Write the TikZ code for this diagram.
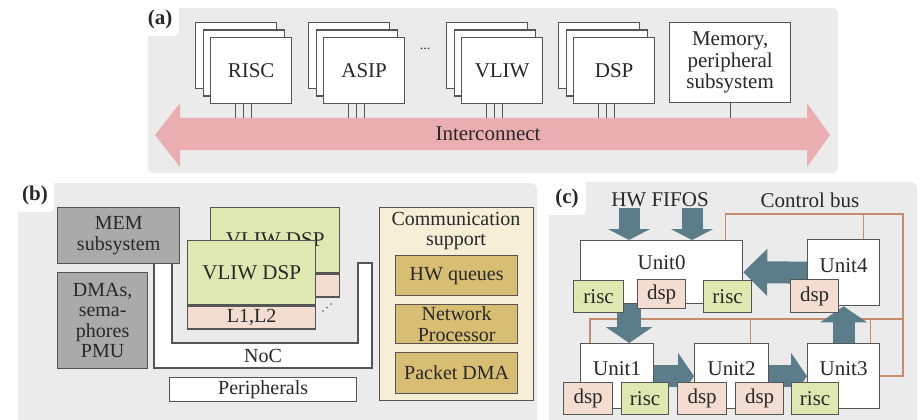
\documentclass[tikz,border=0pt]{standalone}
\usepackage{fontspec}
\setmainfont{Liberation Serif}
\usetikzlibrary{arrows.meta}

\begin{document}
\begin{tikzpicture}[x=1pt, y=-1pt,
    every node/.style={font=\fontsize{21}{21.5}\selectfont, text=ink, align=center, inner sep=0pt},
    box/.style={draw=edgegray, line width=1.3pt, fill=white, anchor=north west},
    card/.style={box, minimum width=81pt, minimum height=66pt},
    tag/.style={fill=white, rounded corners=4pt, minimum width=38pt, minimum height=34pt, font=\bfseries\fontsize{21}{21}\selectfont},
    panel/.style={fill=panelgray, rounded corners=6pt},
    stub/.style={draw=edgegray, line width=1.2pt},
    bus/.style={draw=busbrown, line width=1.4pt},
    flow/.style={draw=flowteal, line width=22pt, -{Triangle[width=46pt, length=16pt]}},
    small/.style={box, minimum width=48pt, minimum height=32pt}]
    % Màu dùng trong hình
    \definecolor{ink}{RGB}{40, 40, 40}
    \definecolor{edgegray}{RGB}{85, 85, 85}
    \definecolor{panelgray}{RGB}{235, 235, 235}
    \definecolor{icpink}{RGB}{234, 174, 176}
    \definecolor{memgray}{RGB}{170, 170, 170}
    \definecolor{dspgreen}{RGB}{223, 232, 176}
    \definecolor{cachepink}{RGB}{243, 221, 208}
    \definecolor{commbeige}{RGB}{246, 238, 214}
    \definecolor{tanfill}{RGB}{215, 190, 115}
    \definecolor{busbrown}{RGB}{196, 140, 108}
    \definecolor{flowteal}{RGB}{90, 125, 137}

    \useasboundingbox (0,0) rectangle (922,420);

    % 1. Khung (a): bộ xử lý và Interconnect
    \fill[panel] (148,8) rectangle (838,173);
    \node[tag] (taga) at (160,19) {(a)};

    \fill[icpink] (155,135) -- (180,103) -- (180,118) -- (807,118) -- (807,103) -- (830,135)
        -- (807,167) -- (807,150) -- (180,150) -- (180,167) -- cycle;
    \node (ic) at (488,134) {Interconnect};
    \coordinate (icTop) at (0,118);

    \foreach \name/\x in {RISC/210, ASIP/323, VLIW/461, DSP/573} {
        \node[card] at (\x-15, 22) {};
        \node[card] at (\x-7.5, 29.5) {};
        \node[card] (\name) at (\x, 37) {\name};
        \foreach \dx in {-16, -8, 0} {
            \path ([xshift=\dx pt]\name.south) coordinate (pin);
            \draw[stub] (pin) -- (pin |- icTop);
        }
    }
    \node[font=\fontsize{14}{14}\selectfont] (gap) at (425,49) {...};

    \node[box, minimum width=121pt, minimum height=80pt] (mem) at (669,22) {Memory,\\peripheral\\subsystem};
    \draw[stub] (mem.south) -- (mem.south |- icTop);

    % 2. Khung (b): cụm VLIW DSP
    \fill[panel] (18,183) rectangle (537,440);
    \node[tag] (tagb) at (35,195) {(b)};

    \begin{scope}[every node/.append style={font=\fontsize{20}{20.5}\selectfont}]
    \draw[stub, fill=white] (154,263) -- (154,368) -- (372,368) -- (372,263) -- (358,263)
        -- (358,343) -- (172,343) -- (172,263) -- cycle;
    \node (noc) at (263,356) {NoC};
    \node[box, minimum width=187pt, minimum height=24pt] (periph) at (169,377) {Peripherals};

    \node[box, fill=memgray, minimum width=122pt, minimum height=56pt] (memsub) at (57,207) {MEM\\subsystem};
    \node[box, fill=memgray, minimum width=90pt, minimum height=96pt] (dma) at (57,272) {DMAs,\\sema-\\phores\\PMU};

    \node[box, fill=dspgreen, minimum width=129pt, minimum height=65pt, font=\fontsize{21}{21}\selectfont] (vliwB) at (210,207) {VLIW DSP};
    \node[box, fill=cachepink, minimum width=129pt, minimum height=23pt] (cacheB) at (vliwB.south west) {};
    \node[box, fill=dspgreen, minimum width=128pt, minimum height=64pt, font=\fontsize{21}{21}\selectfont] (vliwA) at (187,240) {VLIW DSP};
    \node[box, fill=cachepink, minimum width=128pt, minimum height=23pt] (cacheA) at (vliwA.south west) {L1,L2};
    \foreach \k in {0, 1, 2}
        \fill[edgegray] (323+4*\k, 311-3.5*\k) circle (0.9pt);

    \node[box, fill=commbeige, minimum width=154pt, minimum height=193pt] (comm) at (379,207) {};
    \node (commt) at (456,231) {Communication\\support};
    \node[box, fill=tanfill, minimum width=122pt, minimum height=40pt] (hwq) at (395,255) {HW queues};
    \node[box, fill=tanfill, minimum width=122pt, minimum height=39pt] (netp) at (395,304) {Network\\Processor};
    \node[box, fill=tanfill, minimum width=122pt, minimum height=41pt] (pdma) at (395,352) {Packet DMA};
    \end{scope}

    % 3. Khung (c): các Unit và Control bus
    \fill[panel] (549,182) rectangle (917,440);
    \node[tag] (tagc) at (567,198) {(c)};
    \node (fifo) at (660,200) {HW FIFOS};
    \node (cbus) at (810,200) {Control bus};

    \coordinate (cbtr) at (903,214);
    \coordinate (cbmr) at (903,319);

    \node[box, minimum width=162pt, minimum height=63pt] (unit0) at (580,240) {};
    \node[box, minimum width=72pt, minimum height=66pt] (unit4) at (807,239) {};
    \node[box, minimum width=73pt, minimum height=65pt] (unit1) at (580,343) {};
    \node[box, minimum width=74pt, minimum height=65pt] (unit2) at (694,343) {};
    \node[box, minimum width=72pt, minimum height=65pt] (unit3) at (807,343) {};

    \draw[bus] ([xshift=64pt]unit0.north) |- (cbtr) |- (unit3.east);
    \path ([xshift=20pt]unit4.north) coordinate (tap4);
    \draw[bus] (tap4) -- (tap4 |- cbtr);
    \draw[bus] ([xshift=-27pt]unit1.north) |- (cbmr);
    \path ([xshift=19pt]unit2.north) coordinate (tap2);
    \draw[bus] (tap2) -- (tap2 |- cbmr);
    \path ([xshift=27pt]unit3.north) coordinate (tap3);
    \draw[bus] (tap3) -- (tap3 |- cbmr);

    \node (t0) at ([yshift=10pt]unit0.center) {Unit0};
    \node (t4) at ([yshift=7pt]unit4.center) {Unit4};
    \node (t1) at ([yshift=8pt]unit1.center) {Unit1};
    \node (t2) at ([yshift=8pt]unit2.center) {Unit2};
    \node (t3) at ([yshift=8pt]unit3.center) {Unit3};

    % Mũi tên dữ liệu
    \coordinate (fifoA) at (629,208);
    \coordinate (fifoB) at (692,208);
    \draw[flow, line width=21pt, -{Triangle[width=42pt, length=11pt]}] (fifoA) -- (fifoA |- unit0.north);
    \draw[flow, line width=21pt, -{Triangle[width=42pt, length=11pt]}] (fifoB) -- (fifoB |- unit0.north);
    \draw[flow, -{Triangle[width=46pt, length=24pt]}] (unit4.west) -- (unit0.east);
    \path ([xshift=12pt]unit1.north) coordinate (drop);
    \draw[flow, line width=24pt] (drop |- unit0.south) -- (drop);
    \draw[flow] (unit1.east) -- (unit2.west);
    \draw[flow] (unit2.east) -- (unit3.west);
    \draw[flow] (unit3.north) -- (unit4.south);

    % Khối risc / dsp
    \node[small, fill=dspgreen, minimum width=50pt] (r0a) at (573,280) {risc};
    \node[small, fill=cachepink, minimum height=29pt] (d0) at (637,279) {dsp};
    \node[small, fill=dspgreen] (r0b) at (703,280) {risc};
    \node[small, fill=cachepink, minimum height=33pt] (d4) at (790,279) {dsp};
    \node[small, fill=cachepink, minimum width=49pt] (d1) at (563,382) {dsp};
    \node[small, fill=dspgreen, minimum width=47pt] (r1) at (621,382) {risc};
    \node[small, fill=cachepink, minimum width=49pt] (d2a) at (677,382) {dsp};
    \node[small, fill=cachepink] (d2b) at (735,382) {dsp};
    \node[small, fill=dspgreen, minimum width=47pt] (r3) at (791,382) {risc};
\end{tikzpicture}
\end{document}
